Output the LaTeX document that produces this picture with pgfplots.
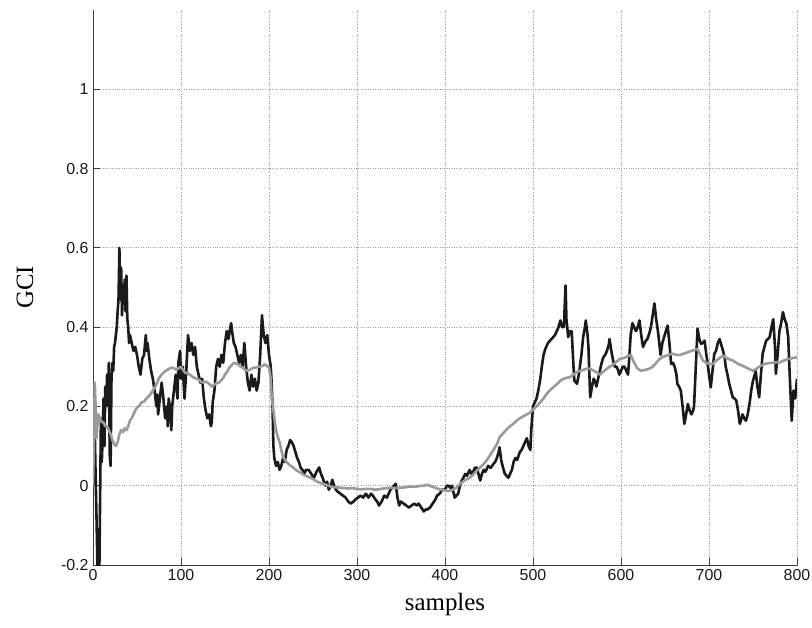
\documentclass[border=0pt]{standalone}
\usepackage{fontspec}
\setmainfont{Liberation Serif}
\newfontfamily\ticksans{Liberation Sans}
\usepackage{pgfplots}
\pgfplotsset{compat=1.18}

\definecolor{gciblack}{HTML}{1A1A1A}
\definecolor{gcigray}{HTML}{9A9A9A}
\definecolor{axisgray}{HTML}{3C3C3C}

\begin{document}
\begin{tikzpicture}
\useasboundingbox (0,0) rectangle (812bp,628bp);
\begin{axis}[
  at={(93bp,63bp)}, anchor=south west,
  width=704bp, height=555bp, scale only axis,
  xmin=0, xmax=800, ymin=-0.2, ymax=1.2,
  axis x line*=bottom, axis y line*=left,
  axis line style={-, axisgray, line width=0.8bp},
  xtick={0,100,...,800},
  ytick={-0.2,0,0.2,0.4,0.6,0.8,1},
  xticklabels={0,100,200,300,400,500,600,700,800},
  yticklabels={-0.2,0,0.2,0.4,0.6,0.8,1},
  tick align=inside,
  major tick length=7bp,
  tick style={axisgray, line width=0.8bp},
  ticklabel style={font=\ticksans\fontsize{16}{16}\selectfont, text=black!90},
  xticklabel style={yshift=-1bp},
  yticklabel style={xshift=-1bp},
  grid=major,
  grid style={dotted, gray!75, line width=0.8bp},
  xlabel={samples}, ylabel={GCI},
  label style={font=\fontsize{25}{25}\selectfont},
  xlabel style={at={(axis description cs:0.5,-0.072)}, anchor=center},
  ylabel style={at={(axis description cs:-0.0966,0.5)}, anchor=center, rotate=0},
  line join=round,
]
% fast-reacting index
\addplot[gciblack, line width=2.6bp, mark=none] coordinates {
(0,0.00) (1,0.08) (2,0.14) (3,0.02) (4,-0.08) (5,-0.20) (6,-0.26) (7,-0.26)
(8,-0.05) (9,0.17) (10,0.06) (11,0.12) (12,0.22) (13,0.10) (14,0.25) (15,0.20)
(16,0.28) (17,0.23) (18,0.31) (19,0.08) (20,0.05) (21,0.27) (22,0.31) (23,0.29)
(24,0.35) (25,0.36) (26,0.38) (27,0.40) (28,0.44) (29,0.47) (30,0.60) (31,0.47)
(32,0.55) (33,0.43) (34,0.50) (35,0.46) (36,0.52) (37,0.44) (38,0.53) (39,0.42)
(40,0.40) (41,0.36) (42,0.38) (44,0.36) (46,0.34) (48,0.35) (50,0.33) (52,0.30)
(54,0.28) (56,0.32) (58,0.33) (60,0.38) (61,0.34) (62,0.36) (64,0.32) (66,0.29)
(68,0.27) (70,0.24) (72,0.20) (73,0.23) (74,0.18) (76,0.22) (78,0.26) (80,0.22)
(82,0.17) (84,0.20) (85,0.15) (86,0.22) (88,0.19) (89,0.14) (90,0.20) (92,0.24)
(94,0.28) (96,0.22) (97,0.31) (99,0.34) (100,0.27) (102,0.30) (104,0.22) (106,0.29)
(108,0.38) (110,0.34) (112,0.36) (114,0.33) (116,0.35) (118,0.30) (120,0.28) (122,0.26)
(124,0.27) (126,0.22) (128,0.19) (130,0.17) (132,0.18) (134,0.15) (135,0.16) (136,0.21)
(138,0.24) (140,0.30) (142,0.32) (144,0.30) (146,0.33) (148,0.31) (150,0.36) (152,0.39)
(154,0.37) (156,0.40) (157,0.41) (158,0.39) (160,0.36) (162,0.35) (164,0.33) (166,0.31)
(168,0.33) (170,0.30) (172,0.36) (174,0.30) (176,0.26) (178,0.24) (180,0.28) (182,0.25)
(184,0.27) (186,0.24) (188,0.26) (190,0.33) (192,0.43) (194,0.38) (196,0.36) (198,0.38)
(200,0.33) (202,0.30) (203,0.26) (204,0.20) (205,0.10) (206,0.07) (208,0.05) (210,0.06)
(212,0.04) (214,0.05) (216,0.07) (218,0.06) (220,0.09) (222,0.10) (224,0.115) (226,0.11)
(228,0.10) (230,0.085) (232,0.07) (234,0.06) (236,0.045) (238,0.04) (240,0.03) (242,0.04)
(245,0.04) (248,0.03) (251,0.02) (254,0.035) (257,0.046) (259,0.03) (261,0.02) (264,0.00)
(266,0.01) (268,-0.01) (270,0.00) (272,0.015) (274,0.00) (276,-0.01) (278,-0.015) (281,-0.02)
(284,-0.025) (287,-0.03) (290,-0.04) (293,-0.045) (296,-0.04) (298,-0.035) (301,-0.03) (304,-0.025)
(307,-0.03) (310,-0.02) (313,-0.03) (316,-0.02) (318,-0.025) (321,-0.035) (323,-0.04) (325,-0.05)
(328,-0.04) (331,-0.025) (334,-0.03) (336,-0.02) (338,-0.01) (340,-0.005) (342,0.00) (344,0.005)
(346,-0.03) (348,-0.05) (350,-0.04) (353,-0.045) (356,-0.05) (359,-0.055) (362,-0.05) (365,-0.045)
(368,-0.05) (370,-0.045) (373,-0.055) (376,-0.065) (378,-0.06) (380,-0.06) (383,-0.055) (386,-0.045)
(389,-0.035) (391,-0.025) (394,-0.02) (397,-0.01) (400,-0.01) (402,0.00) (404,0.00) (406,-0.005)
(408,0.00) (410,-0.02) (411,-0.03) (413,-0.025) (415,-0.02) (417,0.00) (419,0.013) (421,0.02)
(423,0.03) (425,0.025) (428,0.04) (430,0.03) (432,0.035) (434,0.045) (436,0.046) (438,0.03)
(440,0.013) (442,0.03) (444,0.04) (446,0.035) (449,0.05) (452,0.045) (455,0.055) (457,0.06)
(459,0.07) (461,0.085) (462,0.097) (463,0.08) (464,0.063) (466,0.045) (468,0.03) (470,0.025)
(472,0.02) (474,0.03) (476,0.04) (478,0.06) (480,0.07) (482,0.065) (485,0.085) (487,0.09)
(489,0.10) (491,0.11) (493,0.12) (495,0.10) (497,0.09) (498,0.14) (500,0.20) (502,0.21)
(504,0.22) (506,0.24) (508,0.265) (510,0.30) (512,0.33) (514,0.345) (515,0.35) (517,0.36)
(519,0.365) (521,0.37) (523,0.375) (525,0.38) (527,0.39) (529,0.40) (531,0.417) (533,0.40)
(535,0.40) (536,0.45) (537,0.505) (538,0.42) (540,0.375) (542,0.39) (544,0.39) (546,0.30)
(547,0.265) (549,0.26) (550,0.257) (552,0.28) (553,0.295) (555,0.33) (557,0.375) (559,0.40)
(560,0.417) (562,0.38) (563,0.35) (565,0.223) (567,0.25) (569,0.27) (571,0.26) (572,0.25)
(574,0.27) (576,0.29) (578,0.31) (580,0.324) (582,0.33) (584,0.34) (586,0.355) (587,0.37)
(589,0.34) (591,0.316) (593,0.30) (595,0.30) (597,0.29) (598,0.28) (600,0.29) (602,0.30)
(604,0.30) (606,0.29) (608,0.28) (609,0.31) (611,0.38) (613,0.41) (615,0.40) (617,0.39)
(619,0.40) (621,0.417) (623,0.38) (625,0.35) (627,0.36) (628,0.365) (630,0.37) (632,0.383)
(634,0.40) (636,0.43) (638,0.46) (640,0.42) (642,0.39) (644,0.35) (645,0.33) (647,0.36)
(649,0.375) (651,0.39) (653,0.404) (655,0.36) (657,0.307) (659,0.31) (661,0.30) (663,0.28)
(664,0.257) (666,0.25) (668,0.24) (670,0.20) (672,0.156) (674,0.18) (676,0.206) (678,0.19)
(680,0.18) (682,0.19) (683,0.20) (685,0.30) (687,0.396) (689,0.37) (691,0.358) (693,0.36)
(695,0.366) (697,0.33) (698,0.316) (700,0.28) (702,0.248) (704,0.29) (706,0.333) (708,0.34)
(710,0.36) (712,0.37) (714,0.355) (716,0.34) (718,0.32) (719,0.30) (721,0.28) (723,0.257)
(725,0.24) (727,0.223) (729,0.22) (731,0.215) (733,0.19) (735,0.156) (737,0.17) (738,0.18)
(740,0.17) (742,0.164) (744,0.18) (746,0.206) (748,0.24) (750,0.265) (752,0.28) (753,0.29)
(755,0.25) (757,0.223) (759,0.28) (761,0.333) (763,0.35) (765,0.366) (767,0.37) (769,0.375)
(771,0.40) (773,0.42) (775,0.35) (776,0.282) (778,0.33) (780,0.39) (782,0.41) (784,0.438)
(786,0.42) (788,0.408) (790,0.375) (792,0.265) (794,0.164) (796,0.24) (798,0.22) (800,0.27)
};
% smoothed index
\addplot[gcigray, line width=2.6bp, mark=none] coordinates {
(0,0.00) (1,0.10) (2,0.26) (3,0.20) (4,0.12) (5,0.15) (6,0.18) (8,0.17)
(10,0.16) (12,0.16) (14,0.15) (16,0.15) (18,0.14) (20,0.13) (22,0.115) (24,0.105)
(26,0.10) (28,0.11) (30,0.13) (32,0.14) (34,0.135) (36,0.145) (38,0.14) (40,0.15)
(42,0.165) (44,0.17) (46,0.18) (48,0.19) (50,0.197) (52,0.20) (55,0.21) (58,0.212)
(60,0.218) (63,0.225) (65,0.23) (68,0.24) (70,0.247) (73,0.26) (75,0.272) (78,0.28)
(80,0.285) (83,0.29) (85,0.293) (88,0.297) (90,0.298) (93,0.295) (95,0.292) (98,0.298)
(100,0.30) (103,0.29) (105,0.285) (108,0.283) (110,0.28) (113,0.275) (115,0.272) (118,0.27)
(120,0.268) (123,0.262) (125,0.26) (128,0.263) (130,0.26) (133,0.255) (135,0.25) (138,0.255)
(140,0.258) (143,0.26) (145,0.264) (148,0.272) (150,0.28) (153,0.29) (155,0.298) (158,0.305)
(160,0.31) (163,0.308) (165,0.306) (168,0.30) (170,0.298) (173,0.292) (175,0.29) (178,0.292)
(180,0.295) (183,0.298) (185,0.298) (188,0.30) (190,0.30) (193,0.303) (195,0.306) (198,0.302)
(200,0.298) (202,0.27) (203,0.224) (205,0.19) (207,0.155) (209,0.13) (212,0.11) (214,0.09)
(216,0.073) (219,0.062) (222,0.055) (225,0.05) (228,0.045) (231,0.039) (235,0.034) (240,0.027)
(245,0.022) (250,0.017) (255,0.01) (260,0.006) (265,0.002) (270,-0.002) (275,-0.004) (280,-0.005)
(285,-0.006) (290,-0.007) (295,-0.006) (300,-0.008) (305,-0.009) (310,-0.008) (316,-0.008) (320,-0.01)
(325,-0.009) (330,-0.007) (335,-0.006) (340,-0.005) (345,-0.006) (350,-0.005) (355,-0.004) (360,-0.002)
(365,-0.003) (370,-0.001) (375,0.000) (380,0.002) (385,-0.002) (390,-0.006) (395,-0.01) (400,-0.012)
(405,-0.013) (409,-0.01) (413,-0.005) (417,0.004) (420,0.01) (424,0.015) (428,0.02) (432,0.028)
(436,0.038) (440,0.046) (444,0.055) (448,0.066) (451,0.076) (455,0.09) (459,0.105) (462,0.122)
(466,0.132) (470,0.142) (474,0.15) (478,0.157) (482,0.165) (485,0.17) (489,0.175) (493,0.18)
(497,0.185) (500,0.192) (504,0.20) (508,0.21) (512,0.22) (515,0.23) (519,0.24) (523,0.248)
(527,0.256) (531,0.265) (535,0.27) (538,0.272) (542,0.274) (546,0.28) (550,0.287) (553,0.29)
(557,0.292) (561,0.295) (565,0.295) (569,0.29) (573,0.285) (576,0.28) (580,0.288) (584,0.295)
(587,0.30) (591,0.305) (595,0.313) (599,0.32) (603,0.322) (607,0.326) (611,0.33) (615,0.31)
(619,0.295) (623,0.29) (627,0.292) (632,0.295) (636,0.30) (640,0.31) (644,0.32) (647,0.324)
(651,0.328) (655,0.331) (659,0.333) (663,0.33) (667,0.33) (670,0.332) (675,0.336) (680,0.34)
(684,0.343) (687,0.345) (690,0.33) (693,0.316) (697,0.31) (700,0.308) (704,0.307) (708,0.315)
(712,0.322) (716,0.328) (720,0.322) (724,0.318) (727,0.316) (731,0.31) (735,0.305) (738,0.303)
(742,0.298) (746,0.294) (750,0.29) (754,0.295) (757,0.30) (761,0.305) (765,0.308) (769,0.31)
(773,0.31) (777,0.312) (780,0.31) (784,0.315) (788,0.318) (791,0.32) (795,0.322) (800,0.324)
};
\end{axis}
\end{tikzpicture}
\end{document}
